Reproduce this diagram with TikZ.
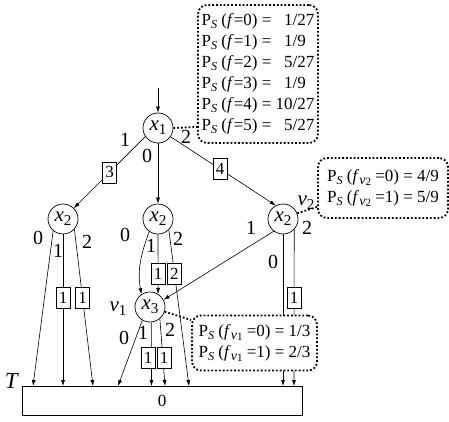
\documentclass[tikz,border=0pt]{standalone}
\usepackage{fontspec}
\setmainfont{Liberation Serif}
\usetikzlibrary{arrows.meta,calc}
\newcommand\lsub[1]{\raisebox{-0.38ex}{\fontsize{0.72\dimexpr\fontdimen6\font\relax}{1em}\selectfont #1}}
\newcommand\symsub[2]{\textit{#1}\lsub{#2}}
\newcommand\PS{P\lsub{\textit{S}}}
\newcommand\fv[1]{\textit{f}\raisebox{-0.3ex}{\fontsize{14}{14}\selectfont\textit{v}\raisebox{-0.3ex}{\fontsize{11}{11}\selectfont #1}}}
\begin{document}
\begin{tikzpicture}[x=1pt,y=-1pt,
  var/.style={circle,draw,line width=0.7pt,minimum size=30pt,inner sep=0pt,font=\fontsize{21}{21}\selectfont},
  lbl/.style={font=\fontsize{20}{20}\selectfont,inner sep=0pt},
  wbox/.style={draw,fill=white,line width=0.7pt,minimum width=14pt,minimum height=21pt,inner sep=0pt,font=\fontsize{17}{17}\selectfont},
  arr/.style={-{Latex[length=6pt,width=4pt]},line width=0.6pt},
  callout/.style={draw,dotted,line width=1.8pt,rounded corners=9pt,fill=white,inner sep=0pt,font=\fontsize{17}{21}\selectfont},
  leader/.style={dotted,line width=1.8pt}]
\useasboundingbox (0,0) rectangle (449,422);

% variable nodes
\node[var] (x1) at (158,128) {\symsub{x}{1}};
\node[var] (x2a) at (63,219) {\symsub{x}{2}};
\node[var] (x2b) at (158,219) {\symsub{x}{2}};
\node[var] (x2c) at (283,219) {\symsub{x}{2}};
\node[var] (x3) at (150,307) {\symsub{x}{3}};
\node[draw,line width=0.7pt,minimum width=280pt,minimum height=29pt,inner sep=0pt,font=\fontsize{17}{17}\selectfont] (T) at (162,400.5) {0};

% free ends
\coordinate (top) at (158,88);
\coordinate (e1) at (33,386);
\coordinate (e2) at (63,386);
\coordinate (e3) at (93,386);
\coordinate (e4) at (118,386);
\coordinate (e5) at (151.5,386);
\coordinate (e6) at (165,386);
\coordinate (e7) at (189,386);
\coordinate (e8) at (283,386);
\coordinate (e9) at (294,386);

% edges
\draw[arr] (top) -- (x1.north);
\draw[arr] (x1.-146) -- node[wbox,pos=0.5] (b3) {3} (x2a.45);
\draw[arr] (x1.south) -- (x2b.north);
\draw[arr] (x1.-35) -- node[wbox,pos=0.47] (b4) {4} (x2c.118);

\draw[arr] (x2a.-130) -- (e1);
\draw[arr] (x2a.south) -- node[wbox,pos=0.42] (ba1) {1} (e2);
\draw[arr] (x2a.-42) -- node[wbox,pos=0.44] (ba2) {1} (e3);

\draw[arr] (x2b.-125) to[out=-110,in=100] (x3.124);
\draw[arr] (x2b.south) -- node[wbox,pos=0.66] (bb1) {1} (x3.58);
\draw[arr] (x2b.-45) -- node[wbox,pos=0.28] (bb2) {2} (e7);

\draw[arr] (x2c.-127) -- (x3.28);
\draw[arr] (x2c.south) -- (e8);
\draw[arr] (x2c.-43) -- node[wbox,pos=0.44] (bc2) {1} (e9);

\draw[arr] (x3.-120) -- (e4);
\draw[arr] (x3.-84) -- (e5);
\draw[arr] (x3.-50) -- (e6);
\node[wbox] (bd1) at (148,358) {1};
\node[wbox] (bd2) at (164,358) {1};

% edge labels
\node[lbl] at (125,140) {1};
\node[lbl] at (147,156) {0};
\node[lbl] at (186,137) {2};
\node[lbl] at (38,238) {0};
\node[lbl] at (58,251) {1};
\node[lbl] at (87,242) {2};
\node[lbl] at (125,235) {0};
\node[lbl] at (151,246) {1};
\node[lbl] at (178,239) {2};
\node[lbl] at (251,228) {1};
\node[lbl] at (273,262) {0};
\node[lbl] at (307,228) {2};
\node[lbl] at (124,338) {0};
\node[lbl] at (143,333) {1};
\node[lbl] at (170,330) {2};
\node[lbl,font=\fontsize{21}{21}\selectfont] at (306,203) {\symsub{v}{2}};
\node[lbl,font=\fontsize{21}{21}\selectfont] at (118,309) {\symsub{v}{1}};
\node[lbl,font=\fontsize{23}{23}\selectfont] at (12,381) {\textit{T}};

% callouts
\node[callout,minimum width=120pt,minimum height=138pt] (c1) at (258,74) {%
\begin{tabular}{@{}l@{\ }r@{/}l@{}}
\PS\ (\textit{f}=0) = & 1&27\\
\PS\ (\textit{f}=1) = & 1&9\\
\PS\ (\textit{f}=2) = & 5&27\\
\PS\ (\textit{f}=3) = & 1&9\\
\PS\ (\textit{f}=4) = & 10&27\\
\PS\ (\textit{f}=5) = & 5&27
\end{tabular}};
\node[callout,minimum width=130pt,minimum height=60pt] (c2) at (383,188) {%
\begin{tabular}{@{}l@{}}
\PS\ (\fv{2} =0) = 4/9\\
\PS\ (\fv{2} =1) = 5/9
\end{tabular}};
\node[callout,minimum width=125pt,minimum height=55pt] (c3) at (254.5,343) {%
\begin{tabular}{@{}l@{}}
\PS\ (\fv{1} =0) = 1/3\\
\PS\ (\fv{1} =1) = 2/3
\end{tabular}};

% leaders
\draw[leader] (x1.0) -- (c1.221);
\draw[leader] (x2c.22) -- (c2.196);
\draw[leader] (x3.-18) -- (c3.160);
\end{tikzpicture}
\end{document}
